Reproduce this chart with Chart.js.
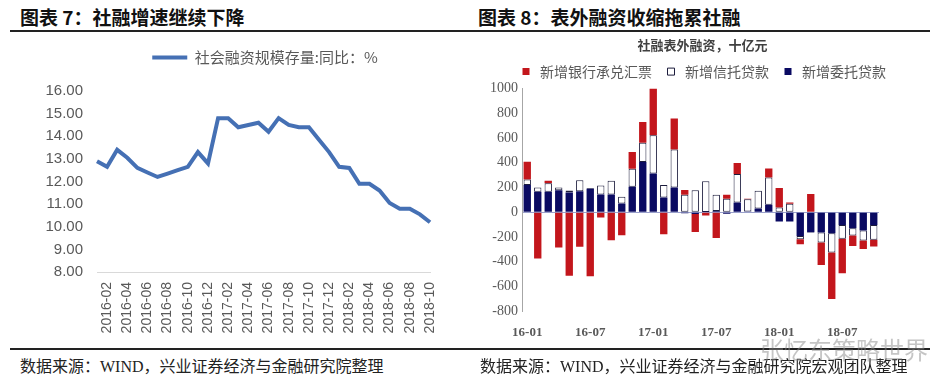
<!DOCTYPE html>
<html lang="zh">
<head>
<meta charset="utf-8">
<title>社融增速与表外融资</title>
<script src="https://cdn.jsdelivr.net/npm/chart.js@4.4.1/dist/chart.umd.min.js"></script>
<style>
  html, body { margin: 0; padding: 0; background: #fff; }
  body { width: 945px; height: 387px; position: relative; overflow: hidden; font-family: "Noto Sans CJK SC", sans-serif; }
  .hd { position: absolute; top: 3px; font-size: 19px; font-weight: bold; color: #111; line-height: 28px; }
  .rule { position: absolute; left: 10px; width: 920px; height: 0; border-top: 2px solid #222; }
  .src { position: absolute; top: 354px; font-size: 16px; color: #222; line-height: 22px; white-space: nowrap; }
  .src .en { font-family: "Liberation Serif", serif; }
  .wm { position: absolute; left: 760px; top: 331px; font-size: 24px; color: rgba(140,140,140,0.5); white-space: nowrap; }
  canvas { position: absolute; }
</style>
</head>
<body>
<div class="hd" style="left:20px">图表 7：社融增速继续下降</div>
<div class="hd" style="left:478px">图表 8：表外融资收缩拖累社融</div>
<div class="rule" style="top:30px"></div>

<canvas id="growthChart" width="486" height="302" style="left:0;top:40px"></canvas>
<canvas id="offbsChart" width="475" height="304" style="left:470px;top:37px"></canvas>

<div class="rule" style="top:348px"></div>
<div class="src" style="left:20px">数据来源：<span class="en">WIND</span>，兴业证券经济与金融研究院整理</div>
<div class="src" style="left:480px">数据来源：<span class="en">WIND</span>，兴业证券经济与金融研究院宏观团队整理</div>
<div class="wm">张忆东策略世界</div>

<script>
// ---- left: 社会融资规模存量同比, monthly 2016-01 .. 2018-10 ----
const months = [
  "2016-01", "2016-02", "2016-03", "2016-04", "2016-05", "2016-06",
  "2016-07", "2016-08", "2016-09", "2016-10", "2016-11", "2016-12",
  "2017-01", "2017-02", "2017-03", "2017-04", "2017-05", "2017-06",
  "2017-07", "2017-08", "2017-09", "2017-10", "2017-11", "2017-12",
  "2018-01", "2018-02", "2018-03", "2018-04", "2018-05", "2018-06",
  "2018-07", "2018-08", "2018-09", "2018-10",
];
const tsfGrowth = [
  12.9, 12.65, 13.4, 13.05, 12.6, 12.4, 12.2, 12.35, 12.5, 12.65, 13.3, 12.8,
  14.8, 14.8, 14.4, 14.5, 14.6, 14.2, 14.8, 14.5, 14.4, 14.4, 13.85, 13.3,
  12.65, 12.6, 11.9, 11.9, 11.6, 11.05, 10.8, 10.8, 10.55, 10.2,
];
const growthMin = 8;
const growthMax = 16;
const growthStep = 1;

// ---- right: 社融表外融资, 十亿元 ----
const monthsShort = [
  "16-01", "16-02", "16-03", "16-04", "16-05", "16-06",
  "16-07", "16-08", "16-09", "16-10", "16-11", "16-12",
  "17-01", "17-02", "17-03", "17-04", "17-05", "17-06",
  "17-07", "17-08", "17-09", "17-10", "17-11", "17-12",
  "18-01", "18-02", "18-03", "18-04", "18-05", "18-06",
  "18-07", "18-08", "18-09", "18-10",
];
const bankAcceptance = [
  143, -375, 22, -286, -515, -281, -518, -43, -227, -186, 135, 167,
  378, -178, 251, 40, -145, -27, -210, 32, 89, 3, -5, 73,
  157, 11, -40, 146, -181, -375, -278, -84, -68, -54,
];
const trustLoans = [
  46, 35, 68, 22, 15, 89, 5, 73, 111, 54, 146, 157,
  310, 100, 308, 140, 178, 248, 130, 108, 230, 100, 143, 221,
  38, 68, -27, -5, -81, -157, -113, -59, -81, -121,
];
const entrustedLoans = [
  219, 165, 165, 178, 160, 170, 190, 143, 143, 70, 205, 405,
  313, 119, 200, -8, -15, 2, 10, -12, 78, 5, 30, 59,
  -75, -76, -192, -162, -165, -170, -103, -130, -149, -103,
];
const flowMin = -800;
const flowMax = 1000;
const flowStep = 200;

const CJK = "'Noto Sans CJK SC', sans-serif";
const GREY = "#595959";
const BLUE = "#4570b4";
const RED = "#c3161c";
const NAVY = "#0a0a62";

// invisible spacer axis, only used to push the plot area around
const spacer = (position, size) => ({
  type: "linear",
  position,
  ticks: { display: false },
  grid: { display: false, drawTicks: false },
  border: { display: false },
  afterFit(s) {
    if (position === "top" || position === "bottom") s.height = size;
    else s.width = size;
  },
});

new Chart(document.getElementById("growthChart"), {
  type: "line",
  data: {
    labels: months,
    datasets: [{
      label: "社会融资规模存量:同比：%",
      data: tsfGrowth,
      borderColor: BLUE,
      backgroundColor: BLUE,
      borderWidth: 4,
      pointRadius: 0,
      tension: 0,
      fill: false,
    }],
  },
  options: {
    responsive: false,
    animation: false,
    layout: { padding: { left: 44, right: 0, top: 0, bottom: 0 } },
    plugins: {
      tooltip: { enabled: false },
      legend: {
        labels: {
          usePointStyle: true,
          pointStyle: "line",
          pointStyleWidth: 35,
          padding: 10,
          color: GREY,
          font: { size: 15, family: CJK },
        },
      },
    },
    scales: {
      x: {
        type: "category",
        offset: false,
        grid: { display: false, drawTicks: false },
        border: { display: true, color: "#d9d9d9" },
        ticks: {
          autoSkip: false,
          minRotation: 90,
          maxRotation: 90,
          padding: 10,
          color: GREY,
          font: { size: 14, family: "'Liberation Sans', sans-serif" },
          callback(v, i) { return i % 2 === 1 ? this.getLabelForValue(v) : ""; },
        },
        afterFit(s) { s.height = 70; },
      },
      y: {
        min: growthMin,
        max: growthMax,
        grid: { display: false, drawTicks: false },
        border: { display: false },
        ticks: {
          stepSize: growthStep,
          padding: 14,
          color: GREY,
          font: { size: 15, family: "'Liberation Sans', sans-serif" },
          callback: (v) => v.toFixed(2),
        },
        afterFit(s) { s.width = 53; },
      },
      xTop: spacer("top", 16),
      yRight: spacer("right", 56),
    },
  },
});

new Chart(document.getElementById("offbsChart"), {
  type: "bar",
  data: {
    labels: monthsShort,
    datasets: [
      { label: "新增委托贷款", data: entrustedLoans, backgroundColor: NAVY, borderWidth: 0 },
      { label: "新增信托贷款", data: trustLoans, backgroundColor: "#ffffff", borderColor: "#1c1c3c", borderWidth: 1, borderSkipped: false },
      { label: "新增银行承兑汇票", data: bankAcceptance, backgroundColor: RED, borderWidth: 0 },
    ],
  },
  options: {
    responsive: false,
    animation: false,
    layout: { padding: { left: 0, right: 10, top: 0, bottom: 0 } },
    datasets: { bar: { barPercentage: 0.7, categoryPercentage: 1 } },
    plugins: {
      tooltip: { enabled: false },
      title: {
        display: true,
        text: "社融表外融资，十亿元",
        color: "#404040",
        padding: 0,
        font: { size: 13, weight: "bold", family: CJK },
      },
      legend: {
        reverse: true,
        labels: {
          usePointStyle: true,
          pointStyle: "rect",
          boxWidth: 14,
          boxHeight: 7,
          padding: 12,
          color: GREY,
          font: { size: 14, family: CJK },
        },
      },
    },
    scales: {
      x: {
        stacked: true,
        grid: { display: false, drawTicks: false },
        border: { display: false },
        ticks: {
          autoSkip: false,
          maxRotation: 0,
          padding: 14,
          color: GREY,
          font: { size: 13, weight: "bold", family: "'Liberation Serif', serif" },
          callback(v, i) { return i % 6 === 0 ? this.getLabelForValue(v) : ""; },
        },
        afterFit(s) { s.height = 30; },
      },
      y: {
        stacked: true,
        min: flowMin,
        max: flowMax,
        grid: {
          drawTicks: false,
          color: (ctx) => (ctx.tick && ctx.tick.value === 0 ? "#9aa0cc" : "rgba(0,0,0,0)"),
        },
        border: { display: true, color: "#a6a6a6" },
        ticks: {
          stepSize: flowStep,
          padding: 4,
          color: GREY,
          font: { size: 14, family: "'Liberation Serif', serif" },
          callback: (v) => String(v),
        },
        afterFit(s) { s.width = 52; },
      },
      yRight: spacer("right", 56),
    },
  },
});
</script>
</body>
</html>
